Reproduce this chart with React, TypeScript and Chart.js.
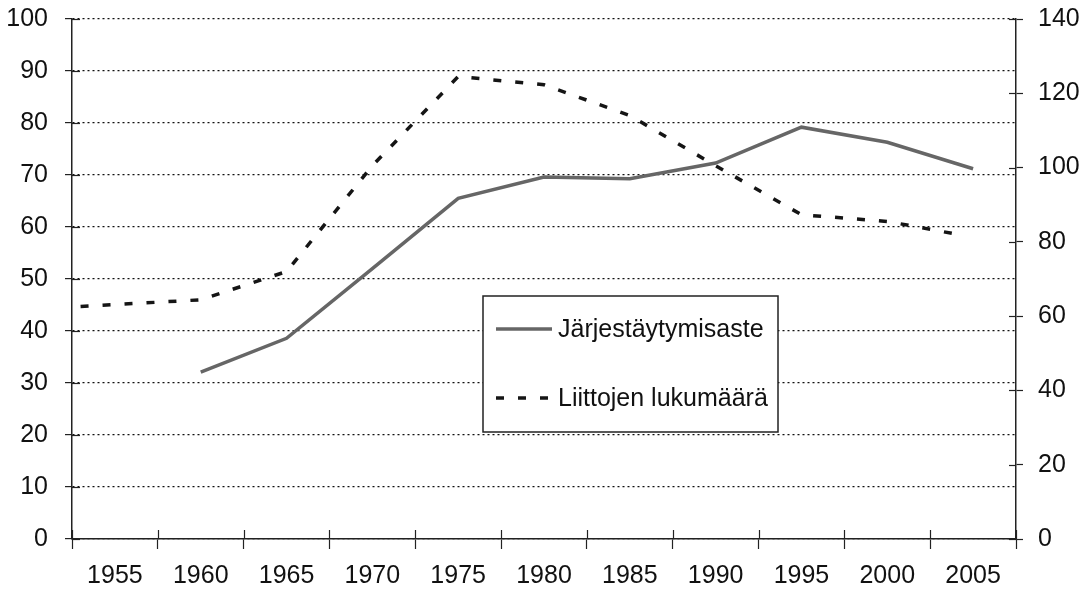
import React, { useEffect, useRef } from "react";
import { Chart, registerables } from "chart.js";

Chart.register(...registerables);

// X-axis category labels
const yearLabels = ["1955", "1960", "1965", "1970", "1975", "1980", "1985", "1990", "1995", "2000", "2005"];

// Järjestäytymisaste (left axis, %)
const rateYears = [1960, 1965, 1970, 1975, 1980, 1985, 1990, 1995, 2000, 2005];
const rateValues = [32.1, 38.6, 52, 65.5, 69.6, 69.3, 72.3, 79.2, 76.3, 71.2];

// Liittojen lukumäärä (right axis)
const unionYears = [1953, 1960, 1965, 1970, 1975, 1980, 1985, 1990, 1995, 2000, 2004];
const unionValues = [62.6, 64.4, 72, 100.5, 124.5, 122.3, 114, 100.5, 87.3, 85.5, 82.1];

const leftTicks = { min: 0, max: 100, step: 10 };
const rightTicks = { min: 0, max: 140, step: 20 };

const FONT = '"Liberation Sans", Arial, sans-serif';
const FONT_SIZE = 25;
const SOLID_COLOR = "#666666";
const DASH_COLOR = "#151515";

export default function App() {
  const ref = useRef<HTMLCanvasElement | null>(null);

  useEffect(() => {
    document.body.style.margin = "0";
    const canvas = ref.current;
    if (!canvas) return;

    const innerTicks = {
      id: "innerTicks",
      afterDraw(chart: any) {
        const ctx = chart.ctx;
        const ca = chart.chartArea;
        ctx.save();
        ctx.strokeStyle = "#222";
        ctx.lineWidth = 1.2;
        const y = chart.scales.y;
        y.ticks.forEach((_t: any, i: number) => {
          const py = Math.round(y.getPixelForTick(i)) + 0.5;
          ctx.beginPath();
          ctx.moveTo(ca.left, py);
          ctx.lineTo(ca.left + 8, py);
          ctx.stroke();
        });
        const y1 = chart.scales.y1;
        y1.ticks.forEach((_t: any, i: number) => {
          const py = Math.round(y1.getPixelForTick(i)) + 0.5;
          ctx.beginPath();
          ctx.moveTo(ca.right - 7, py);
          ctx.lineTo(ca.right, py);
          ctx.stroke();
        });
        const x = chart.scales.x;
        const n = yearLabels.length;
        const w = (x.right - x.left) / n;
        for (let i = 0; i <= n; i++) {
          const px = Math.round(x.left + i * w) + 0.5;
          ctx.beginPath();
          ctx.moveTo(px, ca.bottom - 9);
          ctx.lineTo(px, ca.bottom);
          ctx.stroke();
        }
        ctx.restore();
      },
    };

    const legendBox = {
      id: "legendBox",
      afterDraw(chart: any) {
        const ctx = chart.ctx;
        const ds = chart.data.datasets;
        ctx.save();
        const bx = 483, by = 296, bw = 295, bh = 136;
        ctx.fillStyle = "#fff";
        ctx.fillRect(bx, by, bw, bh);
        ctx.strokeStyle = "#222";
        ctx.lineWidth = 1.5;
        ctx.strokeRect(bx, by, bw, bh);
        const rows = [329, 398];
        ds.forEach((d: any, i: number) => {
          const ry = rows[i];
          ctx.beginPath();
          ctx.strokeStyle = d.borderColor;
          ctx.lineWidth = d.borderWidth;
          ctx.setLineDash(d.borderDash || []);
          ctx.moveTo(496, ry);
          ctx.lineTo(552, ry);
          ctx.stroke();
          ctx.setLineDash([]);
          ctx.fillStyle = "#111";
          ctx.font = `${FONT_SIZE}px ${FONT}`;
          ctx.textBaseline = "middle";
          ctx.textAlign = "left";
          ctx.fillText(d.label, 558, ry + 1);
        });
        ctx.restore();
      },
    };

    const fixVertical = (width: number) => (s: any) => {
      s.width = width;
      s.paddingTop = 0;
      s.paddingBottom = 0;
    };

    const chart = new Chart(canvas, {
      type: "line",
      data: {
        labels: yearLabels,
        datasets: [
          {
            label: "Järjestäytymisaste",
            data: rateYears.map((yr, i) => ({ x: yr, y: rateValues[i] })),
            xAxisID: "xl",
            yAxisID: "y",
            borderColor: SOLID_COLOR,
            borderWidth: 3.5,
            pointRadius: 0,
            tension: 0,
            fill: false,
          },
          {
            label: "Liittojen lukumäärä",
            data: unionYears.map((yr, i) => ({ x: yr, y: unionValues[i] })),
            xAxisID: "xl",
            yAxisID: "y1",
            borderColor: DASH_COLOR,
            borderWidth: 3.5,
            borderDash: [8, 14],
            borderCapStyle: "butt",
            pointRadius: 0,
            tension: 0,
            fill: false,
          },
        ],
      },
      options: {
        animation: false,
        responsive: false,
        maintainAspectRatio: false,
        layout: { padding: { top: 19, left: 0, right: 0, bottom: 0 } },
        plugins: {
          legend: { display: false },
          tooltip: { enabled: false },
        },
        scales: {
          x: {
            type: "category",
            position: "bottom",
            offset: true,
            grid: {
              offset: true,
              drawOnChartArea: false,
              drawTicks: true,
              tickLength: 10,
              tickColor: "#222",
              tickWidth: 1.2,
            },
            border: { display: true, color: "#222", width: 1.5 },
            ticks: {
              color: "#111",
              font: { family: FONT, size: FONT_SIZE },
              padding: 12,
              maxRotation: 0,
              autoSkip: false,
            },
            afterFit: (s: any) => {
              s.height = 55;
              s.paddingLeft = 0;
              s.paddingRight = 0;
            },
          },
          xl: {
            type: "linear",
            display: false,
            min: 1952.5,
            max: 2007.5,
          },
          y: {
            type: "linear",
            position: "left",
            min: leftTicks.min,
            max: leftTicks.max,
            ticks: {
              stepSize: leftTicks.step,
              color: "#111",
              font: { family: FONT, size: FONT_SIZE },
              padding: 17,
            },
            grid: {
              color: "#111",
              lineWidth: 1.2,
              tickLength: 7,
              tickColor: "#222",
              tickWidth: 1.2,
            },
            border: { display: true, color: "#222", width: 1.5, dash: [2, 3] },
            afterFit: fixVertical(72),
          },
          y1: {
            type: "linear",
            position: "right",
            min: rightTicks.min,
            max: rightTicks.max,
            ticks: {
              stepSize: rightTicks.step,
              color: "#111",
              font: { family: FONT, size: FONT_SIZE },
              padding: 15,
            },
            grid: {
              drawOnChartArea: false,
              tickLength: 7,
              tickColor: "#222",
              tickWidth: 1.2,
            },
            border: { display: true, color: "#222", width: 1.5 },
            afterFit: fixVertical(69),
          },
        },
      },
      plugins: [innerTicks, legendBox],
    } as any);

    return () => chart.destroy();
  }, []);

  return (
    <div style={{ width: 1085, height: 594, position: "relative", background: "#fff" }}>
      <canvas ref={ref} width={1085} height={594} style={{ display: "block" }} />
    </div>
  );
}
